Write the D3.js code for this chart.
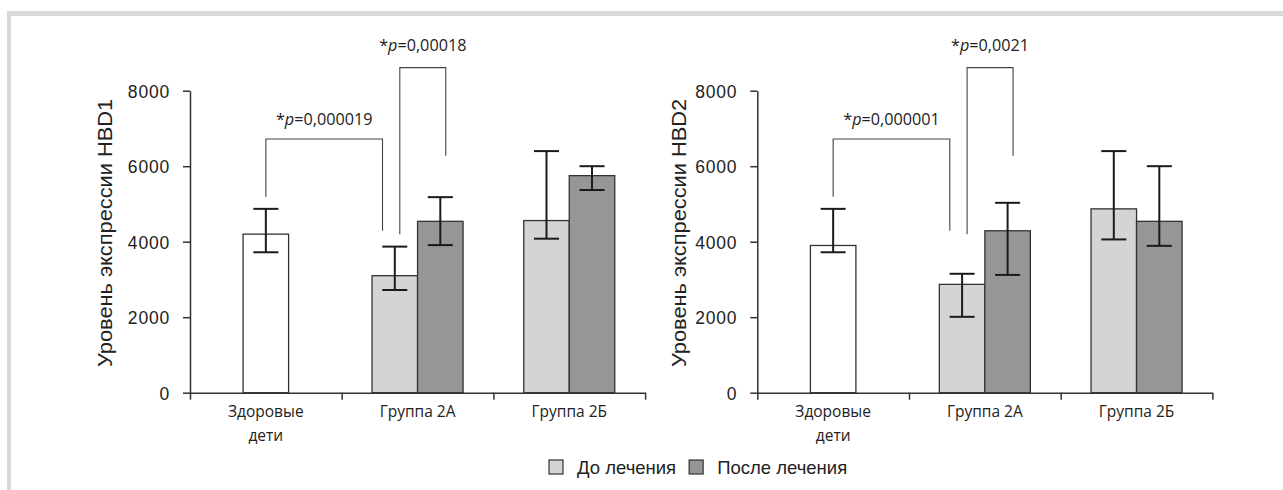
<!DOCTYPE html>
<html lang="ru">
<head>
<meta charset="UTF-8">
<title>HBD1 / HBD2</title>
<script src="https://d3js.org/d3.v7.min.js"></script>
<style>
  body { margin: 0; background: #fff; }
  svg { display: block; }
  .tick text { font-family: "Liberation Sans", Arial, sans-serif; font-size: 17.5px; fill: #222; }
  .cat { font-family: "Open Sans", sans-serif; font-size: 15.5px; fill: #222; }
  .ptext { font-family: "Open Sans", sans-serif; font-size: 16.2px; fill: #222; }
  .ytitle, .legend text { font-family: "Liberation Sans", Arial, sans-serif; fill: #222; }
</style>
</head>
<body>
<svg id="chart" width="1283" height="490"></svg>
<script>
// categories and bars (mean, lower and upper error)
var groups = ["Здоровые дети", "Группа 2А", "Группа 2Б"];
var groupLines = [["Здоровые", "дети"], ["Группа 2А"], ["Группа 2Б"]];
var barGroup  = ["Здоровые дети", "Группа 2А", "Группа 2А", "Группа 2Б", "Группа 2Б"];
var barSeries = ["healthy", "before", "after", "before", "after"];

var hbd1Mean = [4200, 3100, 4540, 4560, 5750];
var hbd1Low  = [3720, 2720, 3910, 4080, 5370];
var hbd1High = [4870, 3870, 5180, 6400, 6000];

var hbd2Mean = [3900, 2870, 4290, 4870, 4540];
var hbd2Low  = [3720, 2010, 3120, 4060, 3890];
var hbd2High = [4870, 3150, 5030, 6400, 6000];

var yTicks = [0, 2000, 4000, 6000, 8000];

// significance brackets: bar index pairs, top level and leg ends (data units)
var bracketFrom    = [0, 1];
var bracketTo      = [1, 2];
var bracketTop     = [6720, 8610];
var bracketFromEnd = [5190, 4200];
var bracketToEnd   = [4290, 6280];
var pHBD1 = ["0,000019", "0,00018"];
var pHBD2 = ["0,000001", "0,0021"];

var legendLabels = ["До лечения", "После лечения"];

var fills = { healthy: "#ffffff", before: "#d3d5d4", after: "#959695" };

var svg = d3.select("#chart");

// frame
svg.append("rect").attr("x", 7).attr("y", 11).attr("width", 1276).attr("height", 5).attr("fill", "#d9d9d9");
svg.append("rect").attr("x", 7).attr("y", 11).attr("width", 4).attr("height", 479).attr("fill", "#d9d9d9");

var y = d3.scaleLinear().domain([0, 8000]).range([392.7, 90.7]);

function drawPanel(x0, x1, title, titleX, mean, low, high, pvals) {
    var g = svg.append("g");
    var x = d3.scaleBand().domain(groups).range([x0, x1]);
    var xIdx = d3.scaleLinear().domain([0, groups.length]).range([x0, x1]);
    var bw = x.bandwidth() * 0.3;

    function barLeft(i) {
        var c = x(barGroup[i]) + x.bandwidth() / 2;
        if (barSeries[i] === "healthy") return c - bw / 2;
        return barSeries[i] === "before" ? c - bw : c;
    }

    // x axis: boundary ticks
    g.append("g")
        .attr("transform", "translate(0," + y(0) + ")")
        .call(d3.axisBottom(xIdx).tickValues(d3.range(groups.length + 1)).tickFormat("").tickSizeInner(7).tickSizeOuter(0))
        .call(function (a) { a.selectAll("line, path").attr("stroke", "#333").attr("stroke-width", 1.5); });

    // category labels
    groups.forEach(function (gr, i) {
        var t = g.append("text").attr("class", "cat").attr("text-anchor", "middle")
            .attr("x", x(gr) + x.bandwidth() / 2).attr("y", 416.5);
        groupLines[i].forEach(function (line, k) {
            t.append("tspan").attr("x", x(gr) + x.bandwidth() / 2).attr("dy", k === 0 ? 0 : 24).text(line);
        });
    });

    // bars
    g.selectAll("rect.bar").data(mean).enter().append("rect")
        .attr("class", "bar")
        .attr("x", function (d, i) { return barLeft(i); })
        .attr("y", function (d) { return y(d); })
        .attr("width", bw)
        .attr("height", function (d) { return y(0) - y(d); })
        .attr("fill", function (d, i) { return fills[barSeries[i]]; })
        .attr("stroke", "#333").attr("stroke-width", 1.3);

    // error bars
    var cap = bw * 0.55;
    var eb = g.selectAll("g.err").data(mean).enter().append("g").attr("class", "err")
        .attr("stroke", "#1a1a1a").attr("stroke-width", 2);
    eb.append("line")
        .attr("x1", function (d, i) { return barLeft(i) + bw / 2; })
        .attr("x2", function (d, i) { return barLeft(i) + bw / 2; })
        .attr("y1", function (d, i) { return y(low[i]); })
        .attr("y2", function (d, i) { return y(high[i]); });
    [low, high].forEach(function (arr) {
        eb.append("line")
            .attr("x1", function (d, i) { return barLeft(i) + bw / 2 - cap / 2; })
            .attr("x2", function (d, i) { return barLeft(i) + bw / 2 + cap / 2; })
            .attr("y1", function (d, i) { return y(arr[i]); })
            .attr("y2", function (d, i) { return y(arr[i]); });
    });

    // y axis
    g.append("g")
        .attr("transform", "translate(" + x0 + ",0)")
        .call(d3.axisLeft(y).tickValues(yTicks).tickFormat(d3.format("d")).tickSizeInner(7).tickSizeOuter(0).tickPadding(13))
        .call(function (a) {
            a.selectAll("line, path").attr("stroke", "#333").attr("stroke-width", 1.5);
            a.selectAll("text").attr("dy", "0.36em").style("letter-spacing", "0.8px");
        });

    // y title
    g.append("text").attr("class", "ytitle")
        .attr("transform", "translate(" + titleX + "," + 233 + ") rotate(-90)")
        .attr("text-anchor", "middle")
        .attr("font-size", 19.5)
        .attr("textLength", 268).attr("lengthAdjust", "spacingAndGlyphs")
        .text(title);

    // brackets
    var fromFrac = [0.5, 0.61], toFrac = [0.23, 0.62], textGap = [14, 17];
    bracketFrom.forEach(function (fi, k) {
        var xa = barLeft(fi) + bw * fromFrac[k];
        var xb = barLeft(bracketTo[k]) + bw * toFrac[k];
        var yt = y(bracketTop[k]);
        g.append("path")
            .attr("d", "M" + xa + "," + y(bracketFromEnd[k]) + "V" + yt + "H" + xb + "V" + y(bracketToEnd[k]))
            .attr("fill", "none").attr("stroke", "#444").attr("stroke-width", 1.1);
        var t = g.append("text").attr("class", "ptext").attr("text-anchor", "middle")
            .attr("x", (xa + xb) / 2).attr("y", yt - textGap[k]);
        t.append("tspan").text("*");
        t.append("tspan").attr("font-style", "italic").text("p");
        t.append("tspan").text("=" + pvals[k]);
    });
}

drawPanel(190, 645.1, "Уровень экспрессии HBD1", 112, hbd1Mean, hbd1Low, hbd1High, pHBD1);
drawPanel(757.3, 1212.4, "Уровень экспрессии HBD2", 686, hbd2Mean, hbd2Low, hbd2High, pHBD2);

// legend
var legend = svg.append("g").attr("class", "legend");
var lx = 549;
legendLabels.forEach(function (lab, i) {
    legend.append("rect").attr("x", lx).attr("y", 460).attr("width", 14).attr("height", 14)
        .attr("fill", i === 0 ? fills.before : fills.after).attr("stroke", "#333").attr("stroke-width", 1.2);
    var t = legend.append("text").attr("x", lx + 28).attr("y", 473.5).attr("font-size", 18.5).text(lab);
    lx = lx + 28 + t.node().getComputedTextLength() + 13;
});
</script>
</body>
</html>
